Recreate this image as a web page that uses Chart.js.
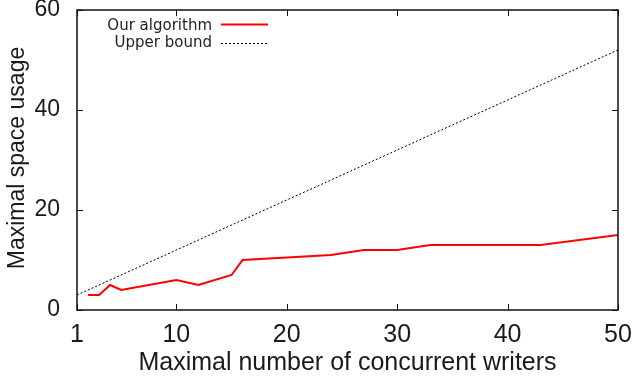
<!DOCTYPE html>
<html><head><meta charset="utf-8">
<script src="https://cdn.jsdelivr.net/npm/chart.js@4"></script>
<style>html,body{margin:0;padding:0;background:#fff}#w{width:634px;height:378px}</style>
</head><body><div id="w"><canvas id="c" width="634" height="378"></canvas></div>
<script>
const writers = [2, 3, 4, 5, 10, 12, 15, 16, 24, 27, 30, 33, 43, 50];
const ourAlgorithm = [3, 3, 5, 4, 6, 5, 7, 10, 11, 12, 12, 13, 13, 15];
const boundWriters = [1, 50];
const upperBound = [3, 52];
const xTicks = [1, 10, 20, 30, 40, 50];
const yTicks = [0, 20, 40, 60];
const seriesLabels = ['Our algorithm', 'Upper bound'];
const xTitle = 'Maximal number of concurrent writers';
const yTitle = 'Maximal space usage';

const TEXT = '#1a1a1a';

const framePlugin = {
  id: 'frame',
  afterDraw(chart) {
    const {ctx, chartArea: a, scales: {x, y}} = chart;
    ctx.save();
    ctx.strokeStyle = '#111';
    ctx.lineWidth = 1.5;
    ctx.strokeRect(a.left, a.top, a.right - a.left, a.bottom - a.top);
    ctx.lineWidth = 1;
    const L = 6;
    ctx.beginPath();
    xTicks.forEach(v => {
      const px = Math.round(x.getPixelForValue(v)) + 0.5;
      ctx.moveTo(px, a.bottom); ctx.lineTo(px, a.bottom - L);
      ctx.moveTo(px, a.top); ctx.lineTo(px, a.top + L);
    });
    yTicks.forEach(v => {
      const py = Math.round(y.getPixelForValue(v)) + 0.5;
      ctx.moveTo(a.left, py); ctx.lineTo(a.left + L, py);
      ctx.moveTo(a.right, py); ctx.lineTo(a.right - L, py);
    });
    ctx.stroke();

    // y axis title (rotated)
    ctx.save();
    ctx.translate(24, 158);
    ctx.rotate(-Math.PI / 2);
    ctx.font = '23px "Liberation Sans"';
    ctx.fillStyle = TEXT;
    ctx.textAlign = 'center';
    ctx.textBaseline = 'alphabetic';
    ctx.fillText(yTitle, 0, 0);
    ctx.restore();

    // legend
    ctx.font = '15px "DejaVu Sans"';
    ctx.textAlign = 'right';
    ctx.textBaseline = 'alphabetic';
    ctx.fillStyle = '#222';
    const textRight = a.left + 135;
    const sx0 = a.left + 144, sx1 = a.left + 191;
    const rows = [{base: 30, line: 24.5}, {base: 47, line: 43.5}];
    chart.data.datasets.forEach((ds, i) => {
      ctx.fillText(ds.label, textRight, rows[i].base);
      ctx.beginPath();
      ctx.strokeStyle = ds.borderColor;
      ctx.lineWidth = ds.borderWidth;
      ctx.setLineDash(ds.borderDash || []);
      ctx.moveTo(sx0, rows[i].line); ctx.lineTo(sx1, rows[i].line);
      ctx.stroke();
      ctx.setLineDash([]);
    });
    ctx.restore();
  }
};

new Chart(document.getElementById('c'), {
  type: 'line',
  data: {
    datasets: [
      {
        label: seriesLabels[0],
        data: writers.map((w, i) => ({x: w, y: ourAlgorithm[i]})),
        borderColor: '#ff0000', borderWidth: 2, pointRadius: 0, tension: 0, fill: false
      },
      {
        label: seriesLabels[1],
        data: boundWriters.map((w, i) => ({x: w, y: upperBound[i]})),
        borderColor: '#000000', borderWidth: 1, borderDash: [2, 2], pointRadius: 0, tension: 0, fill: false
      }
    ]
  },
  options: {
    responsive: false,
    devicePixelRatio: 1,
    animation: false,
    layout: {padding: {top: 10, right: 16, left: 0, bottom: 0}},
    plugins: {legend: {display: false}, tooltip: {enabled: false}},
    scales: {
      x: {
        type: 'linear', min: 1, max: 50,
        afterBuildTicks: s => { s.ticks = xTicks.map(v => ({value: v})); },
        afterFit: s => { s.height = 68; s.paddingLeft = 0; s.paddingRight = 0; },
        grid: {display: false}, border: {display: false},
        ticks: {font: {family: 'Liberation Sans', size: 25}, color: TEXT, padding: 2, maxRotation: 0, autoSkip: false},
        title: {display: true, text: xTitle, font: {family: 'Liberation Sans', size: 25}, color: TEXT, padding: {top: 0, bottom: 0}}
      },
      y: {
        type: 'linear', min: 0, max: 60,
        afterBuildTicks: s => { s.ticks = yTicks.map(v => ({value: v})); },
        afterFit: s => { s.width = 77; s.paddingTop = 0; s.paddingBottom = 0; },
        grid: {display: false}, border: {display: false},
        ticks: {font: {family: 'Liberation Sans', size: 23}, color: TEXT, padding: 9},
        title: {display: false, text: yTitle}
      }
    }
  },
  plugins: [framePlugin]
});
</script></body></html>
